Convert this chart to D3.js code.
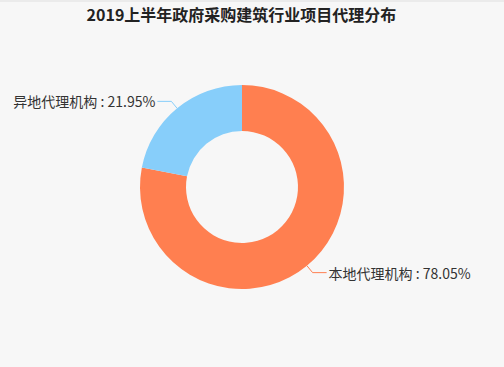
<!DOCTYPE html>
<html><head><meta charset="utf-8">
<script src="https://cdn.jsdelivr.net/npm/d3@7"></script>
<style>
html,body{margin:0;padding:0;background:#f7f7f7;}
svg{display:block;font-family:"Noto Sans CJK SC","Noto Sans",sans-serif;}
</style></head>
<body>
<svg id="c" width="504" height="367"></svg>
<script>
const title = "2019上半年政府采购建筑行业项目代理分布";
const categories = ["本地代理机构", "异地代理机构"];
const values = [78.05, 21.95];
const colors = ["#ff7f50", "#87cefa"];

const W = 504, H = 367;
const svg = d3.select("#c");
svg.append("rect").attr("width", W).attr("height", H).attr("fill", "#f7f7f7");
svg.append("rect").attr("width", W).attr("height", 2).attr("fill", "#ebebeb");

svg.append("text").attr("x", 241.5).attr("y", 14)
  .attr("text-anchor", "middle").attr("dominant-baseline", "central")
  .attr("font-size", 16).attr("font-weight", "bold").attr("fill", "#222")
  .text(title);

const cx = 242, cy = 187, rOuter = 102, rInner = 56;
const g = svg.append("g").attr("transform", `translate(${cx},${cy})`);
const data = categories.map((c, i) => ({ name: c, value: values[i], color: colors[i] }));
const pie = d3.pie().value(d => d.value).sort(null);
const arcs = pie(data);
const arc = d3.arc().innerRadius(rInner).outerRadius(rOuter);

g.selectAll("path.slice").data(arcs).enter().append("path")
  .attr("class", "slice")
  .attr("d", arc).attr("fill", d => d.data.color);

arcs.forEach(a => {
  const mid = (a.startAngle + a.endAngle) / 2;
  const sx = Math.sin(mid), sy = -Math.cos(mid);
  const p0 = [rOuter * sx, rOuter * sy];
  const p1 = [(rOuter + 9) * sx, (rOuter + 9) * sy];
  const dir = sx >= 0 ? 1 : -1;
  const p2 = [p1[0] + dir * 14, p1[1]];
  g.append("polyline").attr("points", [p0, p1, p2].map(p => p.join(",")).join(" "))
    .attr("fill", "none").attr("stroke", a.data.color).attr("stroke-width", 1);
  g.append("text").attr("x", p2[0] + dir * 2).attr("y", p2[1])
    .attr("text-anchor", dir > 0 ? "start" : "end")
    .attr("dominant-baseline", "central")
    .attr("font-size", 14).attr("fill", "#333")
    .text(a.data.name + " : " + a.data.value.toFixed(2) + "%");
});
</script>
</body></html>
